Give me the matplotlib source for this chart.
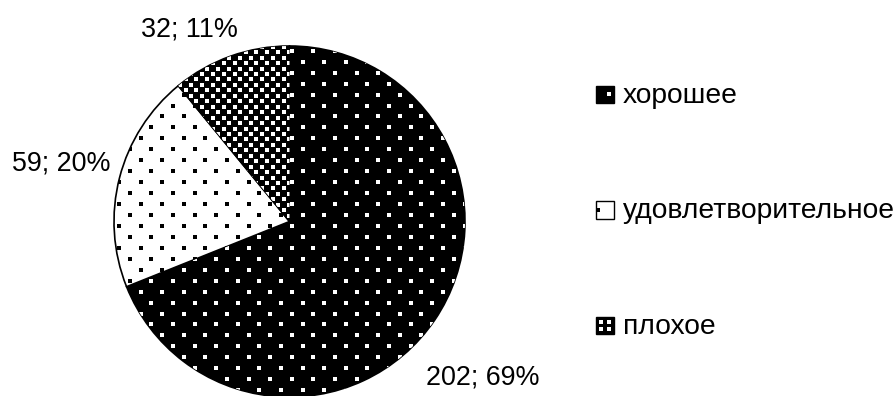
import numpy as np
import matplotlib
matplotlib.use("Agg")
import matplotlib.pyplot as plt
from matplotlib.patches import Rectangle

# Survey results: condition ratings
categories = ["хорошее", "удовлетворительное", "плохое"]
counts = [202, 59, 32]

W, H = 896, 396
plt.rcParams["font.family"] = ["Liberation Sans", "DejaVu Sans"]
FS = 19.4       # data labels, points
FS_LEG = 20.3   # legend text, points

fig = plt.figure(figsize=(W / 100, H / 100), dpi=100)
ax = fig.add_axes([0, 0, 1, 1])


def Y(y_top):
    """Convert a top-down pixel row into the axes' bottom-up coordinate."""
    return H - y_top


cx, cy, r = 289.5, Y(221.5), 175.5
wedges, _ = ax.pie(
    counts,
    startangle=90,
    counterclock=False,
    colors=["black", "white", "black"],
    center=(cx, cy),
    radius=r,
    wedgeprops=dict(edgecolor="black", linewidth=1.2),
)
ax.set_xlim(0, W)
ax.set_ylim(0, H)
ax.set_aspect("auto")
ax.axis("off")


def lattice(x0, y0, dx, dy):
    """Staggered dot lattice covering the pie's bounding box (top-down rows)."""
    pts = []
    for k in range(-40, 40):
        yy = y0 + k * dy
        off = (dx / 2) if (k % 2) else 0.0
        xs = x0 + off + np.arange(-30, 30) * dx
        for xx in xs:
            if abs(xx - cx) <= r + 5 and abs(Y(yy) - cy) <= r + 5:
                pts.append((xx, Y(yy)))
    return np.array(pts)


sparse = lattice(302.5, 61.7, 21.6, 10.95)
dense = lattice(191.0, 74.0, 10.9, 5.45)
dot_s = 4.7
textures = [(sparse, "white"), (sparse, "black"), (dense, "white")]
for wedge, (pts, col) in zip(wedges, textures):
    sc = ax.scatter(pts[:, 0], pts[:, 1], s=dot_s, marker="s", c=col,
                    linewidths=0, zorder=3)
    sc.set_clip_path(wedge)

# Data labels "count; percent"
total = sum(counts)
label_pos = [(482.5, 385), (61, 170.5), (189, 36)]
for v, (lx, ly) in zip(counts, label_pos):
    pct = round(v / total * 100)
    ax.text(lx, Y(ly), f"{v}; {pct}%", ha="center", va="baseline",
            fontsize=FS, color="black")

# Legend
leg_x, sq = 596, 17.5
baselines = [103, 218.5, 334]
fills = ["black", "white", "black"]
for name, base, fc in zip(categories, baselines, fills):
    ax.add_patch(Rectangle((leg_x, Y(base)), sq, sq, facecolor=fc,
                           edgecolor="black", linewidth=1.0, zorder=4))
    ax.text(leg_x + 27, Y(base), name, ha="left", va="baseline",
            fontsize=FS_LEG, color="black")

# Legend swatch textures
ax.scatter([leg_x + 13], [Y(103 - 9)], s=6, marker="s", c="white",
           linewidths=0, zorder=5)
ax.scatter([leg_x + 2], [Y(218.5 - 9)], s=5, marker="s", c="black",
           linewidths=0, zorder=5)
ax.scatter([leg_x + 5, leg_x + 12.5, leg_x + 5, leg_x + 12.5],
           [Y(334 - 12.5), Y(334 - 12.5), Y(334 - 5), Y(334 - 5)],
           s=6, marker="s", c="white", linewidths=0, zorder=5)

fig.savefig("out.png", dpi=100, facecolor="white")
